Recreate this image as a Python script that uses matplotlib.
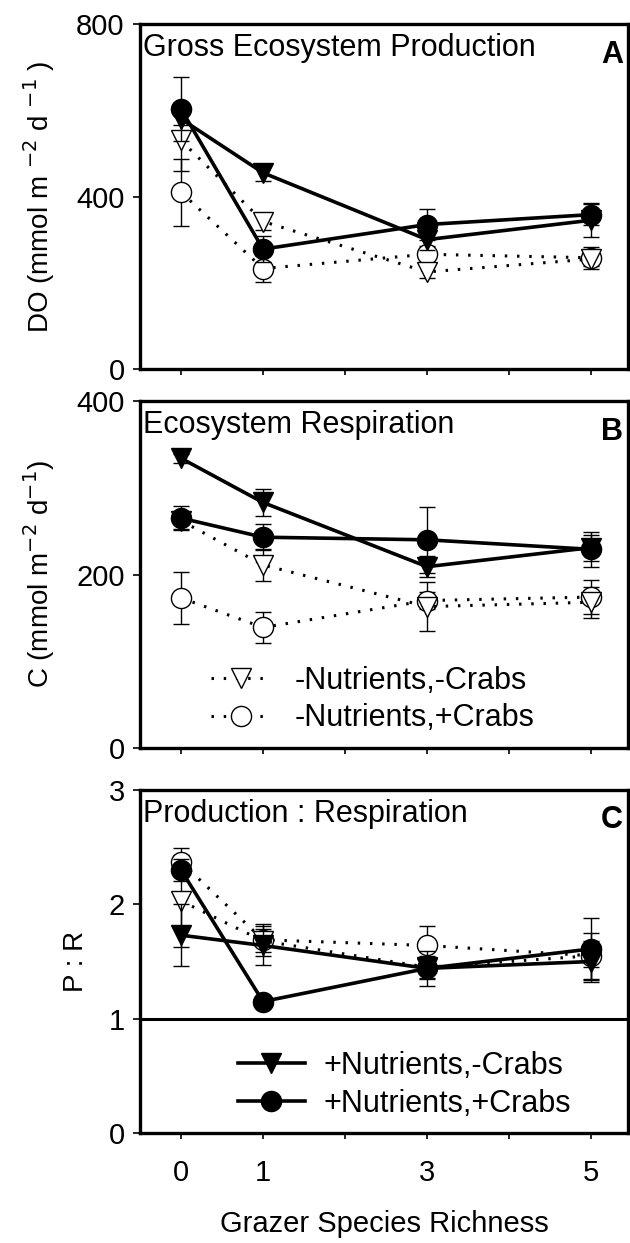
import matplotlib
matplotlib.use('Agg')
import matplotlib.pyplot as plt
from matplotlib.lines import Line2D

plt.rcParams['font.family'] = ['Liberation Sans', 'DejaVu Sans']

richness = [0, 1, 3, 5]
tick_labels = ['0', '1', '', '3', '', '5']

# panel A: gross ecosystem production (DO)
a_nut_nocrab = [580, 455, 300, 345]
a_nut_nocrab_err = [15, 20, 25, 40]
a_nut_crab = [603, 278, 335, 358]
a_nut_crab_err = [75, 30, 35, 25]
a_nonut_nocrab = [530, 342, 225, 255]
a_nonut_nocrab_err = [72, 20, 15, 15]
a_nonut_crab = [410, 233, 266, 258]
a_nonut_crab_err = [78, 32, 20, 25]

# panel B: ecosystem respiration (C)
b_nut_nocrab = [334, 283, 209, 231]
b_nut_nocrab_err = [5, 15, 12, 15]
b_nut_crab = [265, 243, 240, 229]
b_nut_crab_err = [14, 15, 38, 20]
b_nonut_nocrab = [262, 211, 163, 168]
b_nonut_nocrab_err = [10, 18, 28, 18]
b_nonut_crab = [173, 139, 170, 174]
b_nonut_crab_err = [30, 18, 10, 20]

# panel C: P:R
c_nut_nocrab = [1.73, 1.64, 1.44, 1.50]
c_nut_nocrab_err = [0.27, 0.17, 0.15, 0.18]
c_nut_crab = [2.30, 1.15, 1.44, 1.61]
c_nut_crab_err = [0.10, 0.04, 0.08, 0.27]
c_nonut_nocrab = [2.03, 1.68, 1.45, 1.55]
c_nonut_nocrab_err = [0.40, 0.10, 0.10, 0.20]
c_nonut_crab = [2.37, 1.69, 1.64, 1.55]
c_nonut_crab_err = [0.12, 0.14, 0.17, 0.10]

FS = 21
MS = 14.5
dotted = (0, (0.8, 3.2))


def draw_series(ax, y, err, marker, filled):
    if filled:
        ax.errorbar(richness, y, yerr=err, color='black', lw=2.6, marker=marker,
                    ms=MS, mfc='black', mec='black', ecolor='black', elinewidth=1,
                    capsize=5.5, capthick=1, zorder=3)
    else:
        ax.errorbar(richness, y, yerr=err, color='black', lw=2.2, ls=dotted,
                    marker=marker, ms=MS, mfc='white', mec='black', mew=1,
                    ecolor='black', elinewidth=1, capsize=5.5, capthick=1, zorder=2)


def style_axis(ax, ylim, yticks, title, letter, ylabel):
    ax.set_xlim(-0.5, 5.45)
    ax.set_ylim(*ylim)
    ax.set_yticks(yticks)
    ax.set_xticks([0, 1, 2, 3, 4, 5])
    for sp in ax.spines.values():
        sp.set_linewidth(2.4)
    ax.tick_params(axis='y', direction='out', length=5, width=1.2, labelsize=FS, pad=6)
    ax.tick_params(axis='x', direction='out', length=4, width=1.2, labelsize=FS, pad=15)
    ax.text(0.006, 0.975, title, transform=ax.transAxes, fontsize=FS + 1,
            ha='left', va='top')
    ax.text(0.945, 0.955, letter, transform=ax.transAxes, fontsize=FS + 1,
            fontweight='bold', ha='left', va='top', clip_on=False)
    ax.set_ylabel(ylabel, fontsize=FS - 1, labelpad=14)


fig = plt.figure(figsize=(6.3, 12.43), dpi=100)
L, W = 140 / 630, 488 / 630
axA = fig.add_axes([L, 1 - 369 / 1243, W, 345 / 1243])
axB = fig.add_axes([L, 1 - 748 / 1243, W, 347 / 1243])
axC = fig.add_axes([L, 1 - 1133 / 1243, W, 343 / 1243])

# A
draw_series(axA, a_nonut_crab, a_nonut_crab_err, 'o', False)
draw_series(axA, a_nonut_nocrab, a_nonut_nocrab_err, 'v', False)
draw_series(axA, a_nut_nocrab, a_nut_nocrab_err, 'v', True)
draw_series(axA, a_nut_crab, a_nut_crab_err, 'o', True)
style_axis(axA, (0, 800), [0, 400, 800], 'Gross Ecosystem Production', 'A',
           r'DO (mmol m $^{-2}$ d $^{-1}$ )')
axA.set_xticklabels([])

# B
draw_series(axB, b_nonut_crab, b_nonut_crab_err, 'o', False)
draw_series(axB, b_nonut_nocrab, b_nonut_nocrab_err, 'v', False)
draw_series(axB, b_nut_nocrab, b_nut_nocrab_err, 'v', True)
draw_series(axB, b_nut_crab, b_nut_crab_err, 'o', True)
style_axis(axB, (0, 400), [0, 200, 400], 'Ecosystem Respiration', 'B',
           r'C (mmol m$^{-2}$ d$^{-1}$)')
axB.set_xticklabels([])
open_handles = [
    Line2D([], [], color='black', lw=2.2, ls=dotted, marker='v', ms=MS, mfc='white', mew=1),
    Line2D([], [], color='black', lw=2.2, ls=dotted, marker='o', ms=MS, mfc='white', mew=1),
]
axB.legend(open_handles, ['-Nutrients,-Crabs', '-Nutrients,+Crabs'], loc='center left',
           bbox_to_anchor=(0.12, 0.14), frameon=False, fontsize=FS + 1,
           handlelength=2.0, handletextpad=0.75, labelspacing=0.25, borderaxespad=0)

# C
draw_series(axC, c_nonut_crab, c_nonut_crab_err, 'o', False)
draw_series(axC, c_nonut_nocrab, c_nonut_nocrab_err, 'v', False)
draw_series(axC, c_nut_nocrab, c_nut_nocrab_err, 'v', True)
draw_series(axC, c_nut_crab, c_nut_crab_err, 'o', True)
axC.axhline(1, color='black', lw=2.2, zorder=1)
style_axis(axC, (0, 3), [0, 1, 2, 3], 'Production : Respiration', 'C', 'P : R')
axC.set_xticklabels(tick_labels)
axC.set_xlabel('Grazer Species Richness', fontsize=FS, labelpad=16)
filled_handles = [
    Line2D([], [], color='black', lw=2.6, marker='v', ms=MS),
    Line2D([], [], color='black', lw=2.6, marker='o', ms=MS),
]
axC.legend(filled_handles, ['+Nutrients,-Crabs', '+Nutrients,+Crabs'], loc='center left',
           bbox_to_anchor=(0.175, 0.14), frameon=False, fontsize=FS + 1,
           handlelength=2.2, handletextpad=0.6, labelspacing=0.25, borderaxespad=0)

fig.savefig('out.png', dpi=100)
